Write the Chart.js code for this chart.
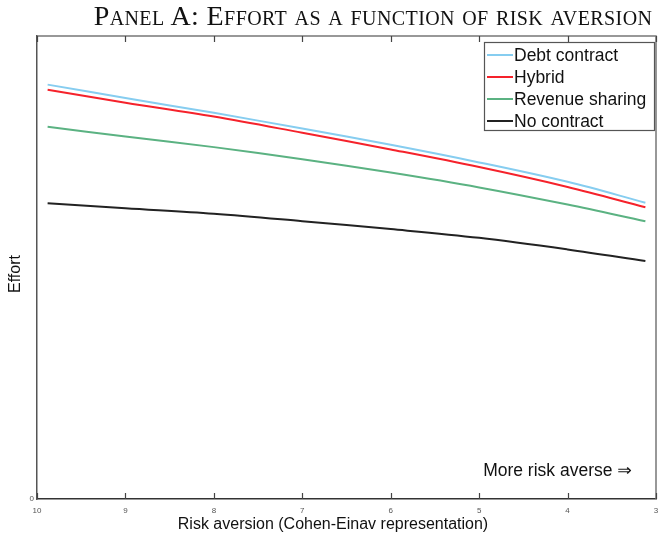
<!DOCTYPE html>
<html>
<head>
<meta charset="utf-8">
<script src="https://cdn.jsdelivr.net/npm/chart.js@4.4.1/dist/chart.umd.min.js"></script>
<style>
  html, body { margin: 0; padding: 0; background: #fff; overflow: hidden; }
  #wrap { position: relative; width: 658px; height: 538px; overflow: hidden; }
  #title {
    position: absolute; left: 0; top: 0px; width: 658px; padding-left: 88px; box-sizing: border-box;
    text-align: center; font-family: "Liberation Serif", "DejaVu Serif", serif;
    font-variant: small-caps; font-size: 28px; letter-spacing: 0.4px; color: #111; white-space: nowrap; line-height: 32px;
  }
  canvas { position: absolute; left: 0; top: 0; }
</style>
</head>
<body>
<div id="wrap">
  <canvas id="c" width="658" height="538"></canvas>
  <div id="title">Panel A: Effort as a function of risk aversion</div>
</div>
<script>
// Risk aversion (Cohen-Einav representation), plotted from 10 down to 3
const riskAversion = [9.88, 9, 8, 7, 6, 5, 4, 3.12];
const xTicks = [10, 9, 8, 7, 6, 5, 4, 3];
const yTicks = [0];

const effortDebt      = [0.895, 0.866, 0.834, 0.800, 0.765, 0.727, 0.685, 0.640];
const effortHybrid    = [0.884, 0.856, 0.826, 0.791, 0.755, 0.717, 0.674, 0.630];
const effortRevenue   = [0.804, 0.783, 0.760, 0.734, 0.705, 0.673, 0.636, 0.600];
const effortNoContract= [0.639, 0.628, 0.616, 0.600, 0.583, 0.564, 0.539, 0.514];

const seriesNames = ['Debt contract', 'Hybrid', 'Revenue sharing', 'No contract'];
const seriesColors = ['#86cdf0', '#f5222b', '#5bb282', '#222222'];
const seriesValues = [effortDebt, effortHybrid, effortRevenue, effortNoContract];

const xTitle = 'Risk aversion (Cohen-Einav representation)';
const yTitle = 'Effort';
const note = 'More risk averse \u21d2';

const datasets = seriesValues.map((vals, i) => ({
  label: seriesNames[i],
  data: vals.map((v, k) => ({ x: riskAversion[k], y: v })),
  borderColor: seriesColors[i],
  backgroundColor: seriesColors[i],
  borderWidth: 2,
  pointRadius: 0,
  tension: 0.35,
  fill: false
}));

const SANS = '"Liberation Sans", Arial, "DejaVu Sans", sans-serif';

// Box frame, inward tick marks, axis titles, in-plot legend and annotation
const framePlugin = {
  id: 'frame',
  afterDatasetsDraw(chart) {
    const { ctx, chartArea: a, scales } = chart;
    ctx.save();
    // top and right border
    ctx.strokeStyle = '#777';
    ctx.lineWidth = 1.5;
    ctx.beginPath();
    ctx.moveTo(a.left, a.top);
    ctx.lineTo(a.right, a.top);
    ctx.lineTo(a.right, a.bottom);
    ctx.stroke();
    // inward ticks on bottom and top
    ctx.strokeStyle = '#444';
    ctx.lineWidth = 1.2;
    scales.x.ticks.forEach(t => {
      const px = Math.round(scales.x.getPixelForValue(t.value)) + 0.5;
      ctx.beginPath();
      ctx.moveTo(px, a.bottom);
      ctx.lineTo(px, a.bottom - 6);
      ctx.moveTo(px, a.top);
      ctx.lineTo(px, a.top + 6);
      ctx.stroke();
    });
    // axis titles
    ctx.fillStyle = '#111';
    ctx.font = '16px ' + SANS;
    ctx.textAlign = 'center';
    ctx.textBaseline = 'middle';
    ctx.fillText(xTitle, 333, a.bottom + 26);
    ctx.save();
    ctx.translate(16, 274);
    ctx.rotate(-Math.PI / 2);
    ctx.fillText(yTitle, 0, 0);
    ctx.restore();
    // legend
    const bx = a.right - 172, by = a.top + 6, bw = 170, bh = 88;
    ctx.fillStyle = '#fff';
    ctx.fillRect(bx, by, bw, bh);
    ctx.strokeStyle = '#555';
    ctx.lineWidth = 1.2;
    ctx.strokeRect(bx + 0.5, by + 0.5, bw, bh);
    ctx.font = '17.5px ' + SANS;
    ctx.textBaseline = 'middle';
    ctx.textAlign = 'left';
    chart.data.datasets.forEach((ds, i) => {
      const yy = by + 13 + i * 22;
      ctx.strokeStyle = ds.borderColor;
      ctx.lineWidth = 2;
      ctx.beginPath();
      ctx.moveTo(bx + 3, yy);
      ctx.lineTo(bx + 29, yy);
      ctx.stroke();
      ctx.fillStyle = '#111';
      ctx.fillText(ds.label, bx + 30, yy + 1);
    });
    // direction note
    ctx.font = '17.5px ' + SANS;
    ctx.fillStyle = '#111';
    ctx.textAlign = 'right';
    ctx.fillText(note, a.right - 24, a.bottom - 28);
    ctx.restore();
  }
};

new Chart(document.getElementById('c'), {
  type: 'line',
  data: { datasets },
  plugins: [framePlugin],
  options: {
    responsive: false,
    animation: false,
    layout: { padding: { top: 36, right: 2, left: 0, bottom: 0 } },
    plugins: { legend: { display: false }, title: { display: false }, tooltip: { enabled: false } },
    scales: {
      x: {
        type: 'linear',
        reverse: true,
        min: 3,
        max: 10,
        afterBuildTicks: s => { s.ticks = xTicks.map(v => ({ value: v })); },
        afterFit: s => { s.height = 39; s.paddingLeft = 0; s.paddingRight = 0; },
        grid: { display: false, drawTicks: false },
        border: { display: true, color: '#333', width: 1.5 },
        ticks: { color: '#555', font: { size: 8, family: SANS }, padding: 7, maxRotation: 0 },
        title: { display: false }
      },
      y: {
        type: 'linear',
        min: 0,
        max: 1,
        afterBuildTicks: s => { s.ticks = yTicks.map(v => ({ value: v })); },
        afterFit: s => { s.width = 37; s.paddingTop = 0; s.paddingBottom = 0; },
        grid: { display: false, drawTicks: false },
        border: { display: true, color: '#555', width: 1.5 },
        ticks: { color: '#555', font: { size: 8, family: SANS }, padding: 3 },
        title: { display: false }
      }
    }
  }
});
</script>
</body>
</html>
